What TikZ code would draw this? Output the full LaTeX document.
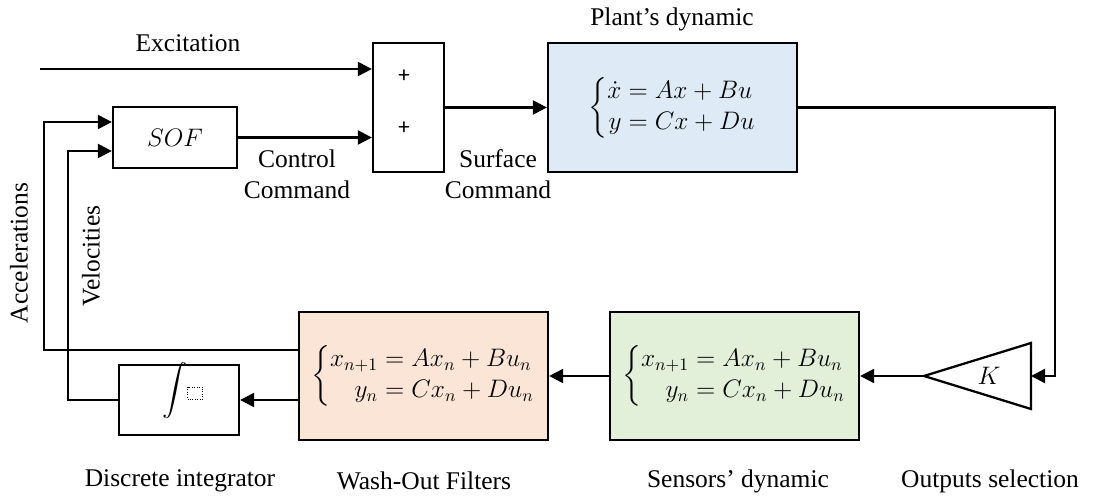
\documentclass[tikz,border=0pt]{standalone}
\usepackage{amsmath}
\usepackage{fontspec}
\setmainfont{Liberation Serif}
\newfontfamily\plusfont{Carlito}
\usepackage{tikz}
\usetikzlibrary{arrows.meta, calc}
\definecolor{plantblue}{HTML}{DEEBF7}
\definecolor{washpeach}{HTML}{FBE5D6}
\definecolor{sensgreen}{HTML}{E2F0D9}
\setlength{\jot}{0pt}

\begin{document}
\begin{tikzpicture}[
  font=\fontsize{14.5}{17.5}\selectfont,
  block/.style={draw, line width=1.3pt, inner sep=0pt},
  sig/.style={line width=1.3pt, -{Triangle[length=8pt,width=8pt]}},
  wire/.style={line width=1.3pt}
]
  \useasboundingbox (0,0) rectangle (21.88,9.96);

  % Summing junction
  \node[block, minimum width=1.42cm, minimum height=2.58cm] (sum) at (8.17,7.81) {};
  \node[font=\plusfont\fontsize{13}{15}\selectfont] (plusA) at (8.08,8.44) {+};
  \node[font=\plusfont\fontsize{13}{15}\selectfont] (plusB) at (8.08,7.40) {+};

  % Plant
  \node[block, fill=plantblue, minimum width=4.98cm, minimum height=2.58cm] (plant) at (13.45,7.81)
    {$\left\{\begin{aligned}\dot{x} &= Ax+Bu\\ y &= Cx+Du\end{aligned}\right.$};
  \node (plantlbl) at (13.44,9.58) {Plant’s dynamic};

  % Controller
  \node[block, minimum width=2.48cm, minimum height=1.22cm] (sof) at (3.5,7.21) {$SOF$};
  \coordinate (sofA) at ($(sof.west)+(0,0.31)$);
  \coordinate (sofV) at ($(sof.west)+(0,-0.27)$);

  % Excitation input
  \coordinate (exc) at (0.8,8.58);
  \node (exclbl) at (3.76,9.10) {Excitation};
  \draw[sig] (exc) -- (exc -| sum.west);
  \draw[sig] (sof.east) -- (sof.east -| sum.west);
  \draw[sig] (sum.east) -- (plant.west);
  \node[align=center] (ctrllbl) at (5.94,6.47) {Control\\Command};
  \node[align=center] (surflbl) at (9.96,6.47) {Surface\\Command};

  % Output selection
  \coordinate (kapex) at (18.48,2.44);
  \coordinate (kbase) at (20.62,2.44);
  \draw[wire] (kapex) -- ($(kbase)+(0,0.66)$) -- ($(kbase)+(0,-0.66)$) -- cycle;
  \node (kgain) at (19.78,2.44) {$K$};
  \coordinate (corner) at (21.1,7.81);
  \draw[sig] (plant.east) -- (corner) |- (kbase);

  % Sensors and wash-out filters
  \node[block, fill=sensgreen, minimum width=4.98cm, minimum height=2.56cm] (sens) at (14.69,2.44)
    {$\left\{\begin{aligned}x_{n+1} &= Ax_n+Bu_n\\ y_n &= Cx_n+Du_n\end{aligned}\right.$};
  \node[block, fill=washpeach, minimum width=4.98cm, minimum height=2.56cm] (wash) at (8.47,2.44)
    {$\left\{\begin{aligned}x_{n+1} &= Ax_n+Bu_n\\ y_n &= Cx_n+Du_n\end{aligned}\right.$};
  \draw[sig] (kapex) -- (sens.east);
  \draw[sig] (sens.west) -- (wash.east);

  % Discrete integrator
  \node[block, minimum width=2.4cm, minimum height=1.4cm] (integ) at (3.58,1.96) {};
  \node (intsign) at (3.5,2.14) {$\displaystyle\int$};
  \node[draw, densely dotted, line width=0.4pt, minimum width=0.3cm, minimum height=0.24cm, inner sep=0pt] (intbox) at (3.9,2.1) {};
  \draw[sig] (wash.west |- integ.east) -- (integ.east);

  % Feedback to controller
  \coordinate (washA) at ($(wash.west)+(0,0.52)$);
  \coordinate (accx) at (0.88,5);
  \coordinate (velx) at (1.36,5);
  \draw[sig] (washA) -| (accx) |- (sofA);
  \draw[sig] (integ.west) -| (velx) |- (sofV);
  \node[rotate=90] (acclbl) at (0.38,4.9) {Accelerations};
  \node[rotate=90] (vellbl) at (1.82,4.84) {Velocities};

  % Block names
  \node (intlbl) at (3.6,0.34) {Discrete integrator};
  \node (washlbl) at (8.48,0.34) {Wash-Out Filters};
  \node (senslbl) at (14.76,0.34) {Sensors’ dynamic};
  \node (outlbl) at (19.8,0.34) {Outputs selection};
\end{tikzpicture}
\end{document}
